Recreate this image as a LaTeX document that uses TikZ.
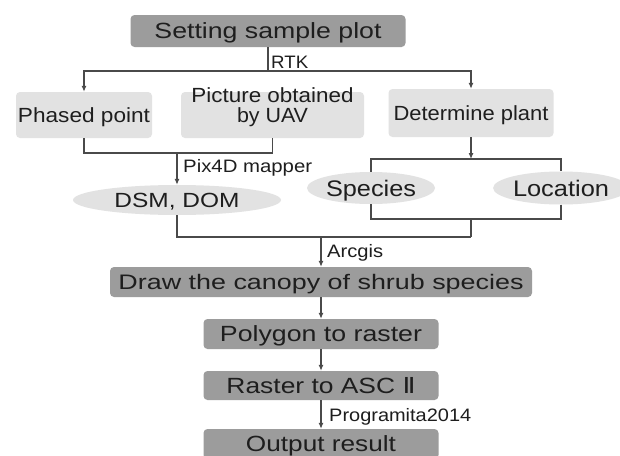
\documentclass[tikz,border=0pt]{standalone}
\usepackage{fontspec}
\usepackage{graphicx}
\setmainfont{Liberation Sans}
\newfontfamily\dejavu{DejaVu Sans}
\usetikzlibrary{arrows.meta,shapes.geometric}
\newcommand{\tw}[2]{\resizebox{#1pt}{\height}{#2}}
\definecolor{darkfill}{HTML}{9C9C9C}
\definecolor{lightfill}{HTML}{E2E2E2}
\definecolor{ink}{HTML}{1E1E1E}
\definecolor{wire}{HTML}{4A4A4A}
\begin{document}
\begin{tikzpicture}[x=1pt,y=-1pt,
  darkbox/.style={rectangle, rounded corners=4pt, fill=darkfill, inner sep=0pt,
    font=\fontsize{22}{24}\selectfont, text=ink, text height=15.8pt, text depth=0pt},
  lightbox/.style={rectangle, rounded corners=4pt, fill=lightfill, inner sep=0pt,
    font=\fontsize{20.5}{20}\selectfont, text=ink, text height=14.7pt, text depth=0pt},
  oval/.style={ellipse, fill=lightfill, inner sep=0pt, text=ink, text depth=0pt},
  lab/.style={anchor=west, inner sep=0pt, font=\fontsize{18}{20}\selectfont, text=ink,
    text height=12.9pt, text depth=0pt},
  conn/.style={draw=wire, line width=1.1pt},
  arr/.style={conn, -{Latex[length=6pt,width=5pt]}}]
\useasboundingbox (0,0) rectangle (620,455);
\clip (0,0) rectangle (620,455);
\fill[white] (0,0) rectangle (620,455);

% boxes
\node[darkbox, minimum width=275pt, minimum height=32pt] (top) at (268,31) {\tw{227}{Setting sample plot}};
\node[lightbox, minimum width=136pt, minimum height=46pt] (phased) at (84,115) {\tw{132}{Phased point}};
\node[lightbox, minimum width=183pt, minimum height=46pt, align=center, text height=15pt] (picture) at (272.5,115)
  {\tw{162}{Picture obtained}\\[0pt]\tw{71}{by UAV}};
\node[lightbox, minimum width=165pt, minimum height=48pt] (determine) at (471,113) {\tw{155}{Determine plant}};
\node[oval, minimum width=208pt, minimum height=30pt, font=\fontsize{20.5}{22}\selectfont, text height=14.7pt] (dsm) at (177,200) {\tw{125}{DSM, DOM}};
\node[oval, minimum width=128pt, minimum height=32pt, font=\fontsize{22.5}{24}\selectfont, text height=16.1pt] (species) at (371,188) {\tw{90}{Species}};
\node[oval, minimum width=134pt, minimum height=33pt, font=\fontsize{22.5}{24}\selectfont, text height=16.1pt] (location) at (561,188) {\tw{96}{Location}};
\node[darkbox, minimum width=422pt, minimum height=30pt, font=\fontsize{21}{23}\selectfont, text height=15pt] (canopy) at (321,282) {\tw{405}{Draw the canopy of shrub species}};
\node[darkbox, minimum width=235pt, minimum height=30pt] (polygon) at (321,334) {\tw{202}{Polygon to raster}};
\node[darkbox, minimum width=235pt, minimum height=29pt] (raster) at (321,385.5) {\tw{189}{Raster to ASC {\dejavu Ⅱ}}};
\node[darkbox, minimum width=235pt, minimum height=30pt] (output) at (321,444) {\tw{150}{Output result}};

% junction coordinates
\coordinate (jrtk) at (268,71);
\coordinate (jpix) at (177,153);
\coordinate (jdet) at (471,159);
\coordinate (jsl) at (471,219);
\coordinate (jarc) at (321,237);
\coordinate (jright) at (471,237);

% connectors
\draw[conn] (top) -- (jrtk);
\draw[arr] (jrtk) -| (phased.north);
\draw[arr] (jrtk) -| (determine.north);
\draw[conn] (phased.south) |- (jpix);
\draw[conn] (picture.south) |- (jpix);
\draw[arr] (jpix) -- (dsm.north);
\draw[arr] (determine.south) -- (jdet);
\draw[conn] (jdet) -| (species.north);
\draw[conn] (jdet) -| (location.north);
\draw[conn] (species.south) |- (jsl);
\draw[conn] (location.south) |- (jsl);
\draw[conn] (jsl) -- (jright);
\draw[conn] (dsm.south) |- (jright);
\draw[arr] (jarc) -- (canopy.north);
\draw[arr] (canopy) -- (polygon);
\draw[arr] (polygon) -- (raster);
\draw[arr] (raster) -- (output);

% labels
\node[lab] (rtk) at (271,62) {\tw{37}{RTK}};
\node[lab] (pix) at (183,166) {\tw{129}{Pix4D mapper}};
\node[lab] (arcgis) at (327,251) {\tw{56}{Arcgis}};
\node[lab] (prog) at (329,415) {\tw{142}{Programita2014}};
\end{tikzpicture}
\end{document}
